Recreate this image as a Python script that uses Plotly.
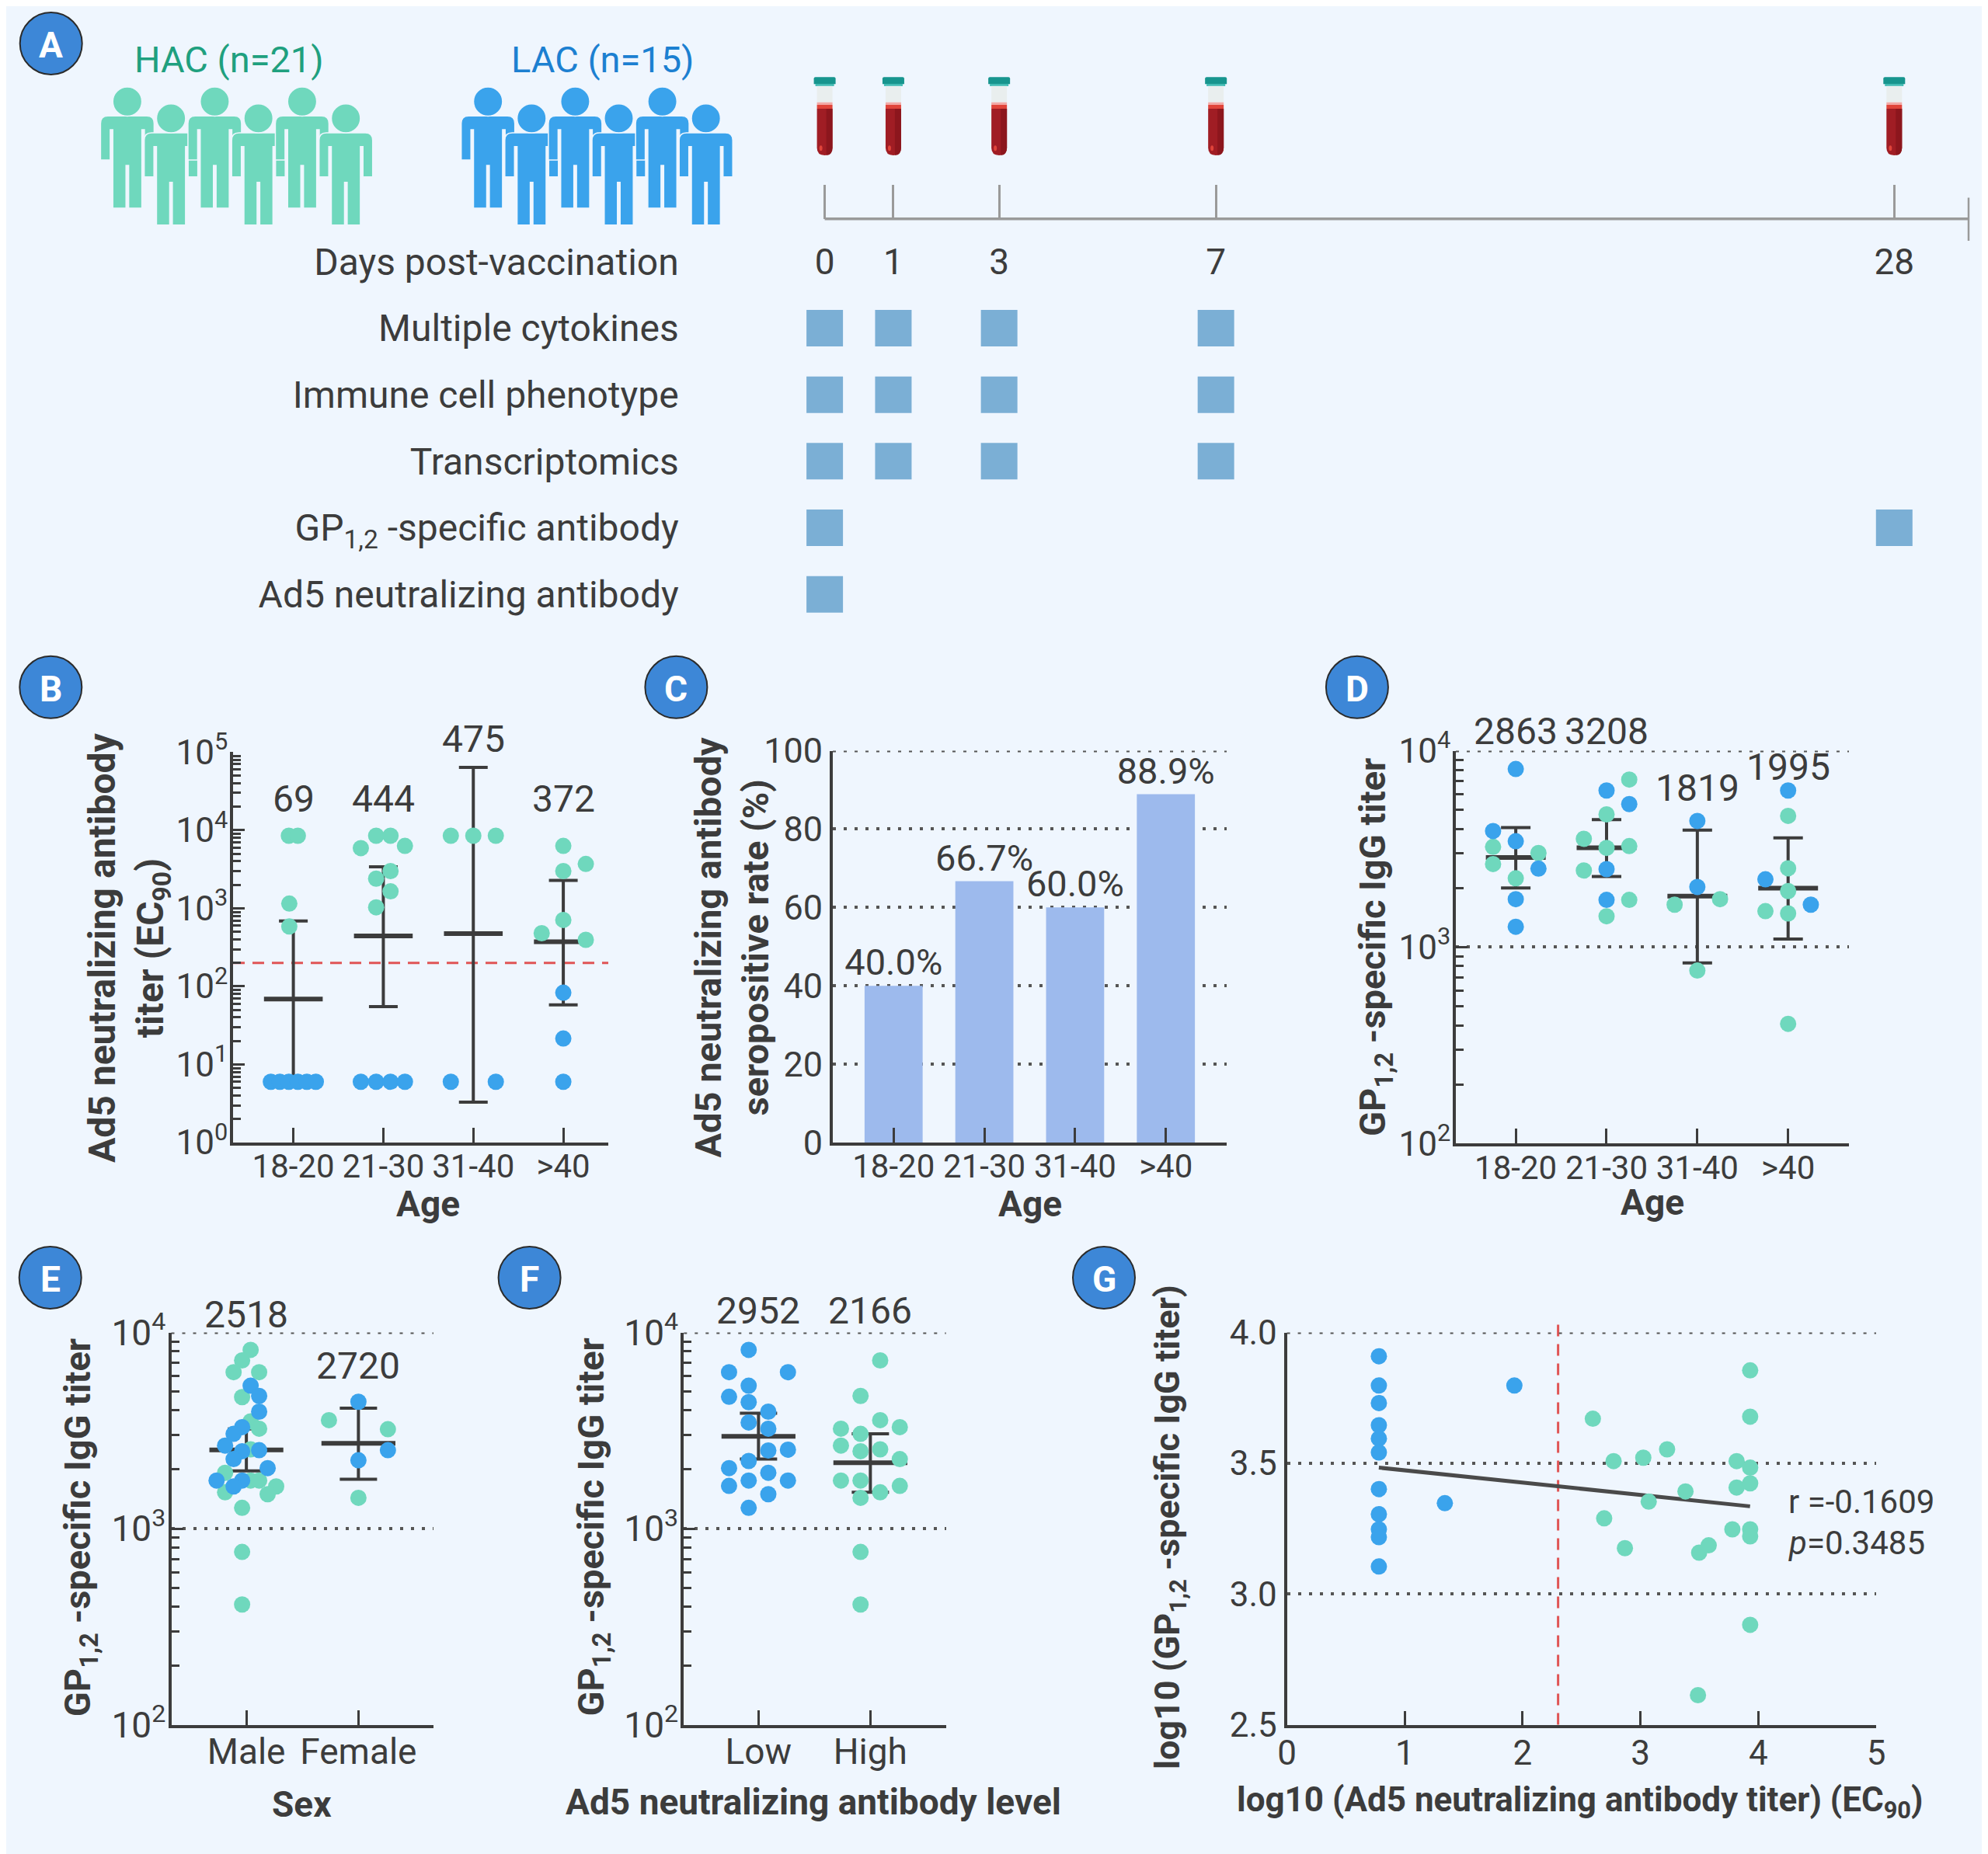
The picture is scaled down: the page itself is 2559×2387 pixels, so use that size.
import numpy as np
import plotly.graph_objects as go

W, H = 2559, 2387
OFF = 8  # page body margin in the browser
BG = "#eff6fe"
INK = "#3c3c3c"
HAC_C = "#6fd8bd"
LAC_C = "#3aa3ec"
BAR_C = "#9dbaed"
SQ_C = "#7bafd5"
RED = "#e05555"
AXGRAY = "#9a9a9a"
GRID = "#555555"

# ======================= DATA =======================
# Panel A
cohort_names = ["HAC (n=21)", "LAC (n=15)"]
days = [0, 1, 3, 7, 28]
assays = ["Multiple cytokines", "Immune cell phenotype", "Transcriptomics",
          "GP<sub>1,2</sub> -specific antibody", "Ad5 neutralizing antibody"]
assay_days = [[0, 1, 3, 7], [0, 1, 3, 7], [0, 1, 3, 7], [0, 28], [0]]

# Panel B  (Ad5 neutralizing titer by age)
age_groups = ["18-20", "21-30", "31-40", ">40"]
b_titer = [
    [8500, 8500, 1150, 585, 6, 6, 6, 6, 6, 6],
    [8500, 8500, 5900, 6300, 3000, 2400, 1650, 1030, 6, 6, 6, 6],
    [8500, 8500, 8500, 6, 6],
    [6300, 3700, 3000, 710, 480, 395, 83, 21.5, 6],
]
b_cohort = ["HHHHLLLLLL", "HHHHHHHHLLLL", "HHHLL", "HHHHHHLLL"]
b_gmt = [69, 444, 475, 372]
b_lo = [6, 55, 3.3, 58]
b_hi = [690, 3400, 64000, 2280]
seropositive_cutoff = 200

# Panel C
c_rate = [40.0, 66.7, 60.0, 88.9]

# Panel D  (GP1,2 IgG by age)
d_titer = [
    [8070, 3900, 3460, 3240, 3015, 2650, 2510, 2240, 1755, 1270],
    [7130, 6270, 5350, 4740, 3560, 3200, 3270, 2455, 2495, 1740, 1740, 1436],
    [4390, 2025, 1755, 1645, 760],
    [6270, 4660, 2520, 2215, 1930, 1645, 1525, 1485, 407],
]
d_cohort = ["LLLHHHLHLL", "HLLHHHHHLLHH", "LLHHH", "LHHLHLHHH"]
d_gmt = [2863, 3208, 1819, 1995]
d_lo = [2000, 2290, 832, 1100]
d_hi = [4060, 4460, 3940, 3600]

# Panel E  (by sex)
sex_groups = ["Male", "Female"]
e_titer = [
    [8150, 7200, 6270, 6270, 4680, 3520, 3230, 2535, 1925, 1757, 1757, 1640, 1530, 1497, 1275, 760, 410,
     5350, 4745, 3945, 3290, 3040, 2650, 2510, 2480, 2260, 2034, 1757, 1757, 1640],
    [3570, 3210, 1435, 4430, 2510, 2230],
]
e_cohort = ["H" * 17 + "L" * 13, "HHHLLL"]
e_gmt = [2518, 2720]
e_lo = [1970, 1785]
e_hi = [3220, 4110]

# Panel F  (by Ad5 neutralizing antibody level)
level_groups = ["Low", "High"]
f_titer = [
    [8150, 6270, 6270, 5350, 4700, 4410, 3945, 3475, 3230, 2500, 2525, 2210, 2034, 1925, 1757, 1650, 1757, 1497, 1275],
    [7200, 4745, 3570, 3230, 3290, 3040, 2650, 2535, 2480, 2260, 1757, 1757, 1650, 1530, 1435, 760, 410],
]
f_cohort = ["L" * 19, "H" * 17]
f_gmt = [2952, 2166]
f_lo = [2260, 1530]
f_hi = [3870, 3040]

# Panel G  (log10 Ad5 titer vs log10 GP IgG)
g_lac_x = [0.78] * 11 + [1.34, 1.93]
g_lac_y = [3.909, 3.797, 3.730, 3.645, 3.594, 3.541, 3.401, 3.305, 3.247, 3.217, 3.105, 3.347, 3.797]
g_hac_x = [2.596, 2.772, 3.024, 3.226, 3.382, 3.070, 2.692, 2.868, 3.498, 3.579, 3.488, 3.780, 3.816, 3.816,
           3.931, 3.931, 3.931, 3.931, 3.931, 3.931, 3.931]
g_hac_y = [3.670, 3.508, 3.521, 3.553, 3.392, 3.353, 3.289, 3.175, 3.158, 3.186, 2.613, 3.247, 3.508, 3.407,
           3.855, 3.678, 3.483, 3.423, 3.247, 3.220, 2.882]
g_fit_x = [0.78, 3.93]
g_fit_y = [3.483, 3.335]
g_r = -0.1609
g_p = 0.3485

# ======================= LAYOUT HELPERS (positions only) =======================
day_pos = [0, 6.0, 15.25, 34.2, 93.5]          # schematic timeline positions
b_dodge = [
    [-0.05, 0.05, -0.045, -0.045, -0.25, -0.15, -0.05, 0.05, 0.15, 0.25],
    [-0.08, 0.08, -0.25, 0.24, 0.08, -0.08, 0.08, -0.08, -0.25, -0.08, 0.08, 0.24],
    [-0.25, 0.0, 0.25, -0.25, 0.25],
    [0.0, 0.25, 0.0, 0.0, -0.24, 0.25, 0.0, 0.0, 0.0],
]
d_slot = [[0, -1, 0, -1, 1, -1, 1, 0, 0, 0],
          [1, 0, 1, 0, -1, 0, 1, -1, 0, 0, 1, 0],
          [0, 0, 1, -1, 0],
          [0, 0, 0, -1, 0, 1, -1, 0, 0]]
d_dodge = [[s * 0.25 for s in g] for g in d_slot]
e_dodge = [[s * 0.076 for s in [0.5, -0.5, -1.5, 1.5, -0.5, 0.5, 1.5, 0.5, -2.5, 0.5, 1.5, 3.5, -2.5, 2.5, -0.5, -0.5, -0.5,
                                 0.5, 1.5, 1.5, -0.5, -1.5, -2.5, 1.5, -0.5, -1.5, 2.5, -3.5, -0.5, -1.5]],
           [s * 0.263 for s in [-1, 1, 0, 0, 1, 0]]]
f_dodge = [[s * 0.0877 for s in [-1, -3, 3, -1, -3, -1, 1, -1, 1, 1, 3, -1, -3, 1, -1, -3, 3, 1, -1]],
           [s * 0.0877 for s in [1, -1, 1, -3, 3, -1, -3, 1, -1, 3, -3, -1, 3, 1, -1, -1, -1]]]
b_label_y = [4.40, 4.40, 5.165, 4.40]
d_label_y = [4.098, 4.098, 3.81, 3.918]
e_label_y = [4.09, 3.83]
f_label_y = [4.109, 4.109]


def fx(x):
    return (x - OFF) / W


def fy(y):
    return 1 - (y - OFF) / H


fig = go.Figure()
shapes = []
annotations = []


def ann(text, x, y, size=44, color=INK, angle=0, xanchor="center"):
    annotations.append(dict(text=text, x=fx(x), y=fy(y), xref="paper", yref="paper", showarrow=False,
                            textangle=angle, xanchor=xanchor, yanchor="middle",
                            font=dict(size=size, color=color)))


# ---------- Panel A ----------
sq_x, sq_y = [], []
for i, dl in enumerate(assay_days):
    for d in dl:
        sq_x.append(day_pos[days.index(d)])
        sq_y.append(i + 1)
fig.add_trace(go.Scatter(x=sq_x, y=sq_y, mode="markers", xaxis="x", yaxis="y", cliponaxis=False,
                         marker=dict(symbol="square", size=47, color=SQ_C, line=dict(width=0)),
                         hoverinfo="skip"))

# timeline line + end tick
shapes.append(dict(type="line", xref="x", yref="paper", x0=0, x1=100, y0=fy(281.8), y1=fy(281.8),
                   line=dict(color=AXGRAY, width=3.5)))
shapes.append(dict(type="line", xref="x", yref="paper", x0=100, x1=100, y0=fy(254.4), y1=fy(310),
                   line=dict(color=AXGRAY, width=2.5)))

# blood tubes at each sampling day
for xp in day_pos:
    common = dict(xref="x", yref="paper", xsizemode="pixel", ysizemode="pixel",
                  xanchor=xp, yanchor=fy(99.3), line=dict(width=0), layer="above")
    shapes += [
        dict(type="path", path="M-14,-9 L-14,-2 Q-14,0 -12,0 L12,0 Q14,0 14,-2 L14,-9 Z",
             fillcolor="#17958e", **common),
        dict(type="rect", x0=-12, x1=12, y0=-9, y1=-11.5, fillcolor="#2cb5ab", **common),
        dict(type="rect", x0=-10, x1=10, y0=-11.5, y1=-32.4, fillcolor="#e9eeee", **common),
        dict(type="rect", x0=-10, x1=10, y0=-32.4, y1=-35.7, fillcolor="#f2a9a6", **common),
        dict(type="rect", x0=-10, x1=10, y0=-35.7, y1=-40.7, fillcolor="#e0443a", **common),
        dict(type="path", path="M-10,-40.7 L10,-40.7 L10,-91 Q10,-100.7 0,-100.7 Q-10,-100.7 -10,-91 Z",
             fillcolor="#a01d24", **common),
        dict(type="path", path="M2,-40.7 L10,-40.7 L10,-91 Q10,-100.7 2,-100.5 Z",
             fillcolor="#8c161d", **common),
        dict(type="circle", x0=-7, x1=-3, y0=-88, y1=-95, fillcolor="#e0443a", **common),
    ]


def person(cx, ty, color):
    def pt(dx, dy):
        return f"{fx(cx + dx):.5f},{fy(ty + dy):.5f}"
    seq = [(34.5, 94), (22, 94), (22, 55), (18.7, 55), (18.7, 156), (1.7, 156),
           (1.7, 101), (-1.7, 101), (-1.7, 156), (-18.7, 156), (-18.7, 55), (-22, 55), (-22, 94),
           (-34.5, 94), (-34.5, 47)]
    path = "M" + pt(-25, 37.3) + " L" + pt(25, 37.3) + " Q" + pt(34.5, 37.3) + " " + pt(34.5, 47)
    for p in seq:
        path += " L" + pt(*p)
    path += " Q" + pt(-34.5, 37.3) + " " + pt(-25, 37.3) + " Z"
    return [dict(type="path", xref="paper", yref="paper", path=path, fillcolor=color,
                 line=dict(color=BG, width=1.5), layer="above"),
            dict(type="circle", xref="paper", yref="paper", x0=fx(cx - 18.7), x1=fx(cx + 18.7),
                 y0=fy(ty + 37.4), y1=fy(ty), fillcolor=color, line=dict(color=BG, width=1.5), layer="above")]


for k in range(6):
    shapes += person(163.9 + k * 56.26, 112 if k % 2 == 0 else 133.7, HAC_C)
    shapes += person(628.2 + k * 56.1, 112 if k % 2 == 0 else 133.7, LAC_C)
ann(cohort_names[0], 294.6, 76.5, size=47, color="#1fa07f")
ann(cohort_names[1], 775, 76.5, size=47, color="#1c80d1")


# ---------- dot-plot helper ----------
def dot_panel(xa, ya, titers, cohorts, dodges, gmt, lo, hi, bar_size, cap_w, dot=21):
    xs = list(range(len(gmt)))
    fig.add_trace(go.Scatter(
        x=xs, y=gmt, mode="markers", xaxis=xa, yaxis=ya, cliponaxis=False, hoverinfo="skip",
        marker=dict(symbol="line-ew", size=bar_size, color=INK, line=dict(width=6, color=INK)),
        error_y=dict(type="data", symmetric=False, array=[h - g for h, g in zip(hi, gmt)],
                     arrayminus=[g - l for g, l in zip(gmt, lo)], color=INK, thickness=4, width=cap_w)))
    for code, color in (("H", HAC_C), ("L", LAC_C)):
        X, Y = [], []
        for i, (vals, cs, ds) in enumerate(zip(titers, cohorts, dodges)):
            for v, c, d in zip(vals, cs, ds):
                if c == code:
                    X.append(i + d)
                    Y.append(v)
        fig.add_trace(go.Scatter(x=X, y=Y, mode="markers", xaxis=xa, yaxis=ya, cliponaxis=False,
                                 marker=dict(size=dot, color=color, line=dict(width=0)), hoverinfo="skip"))


dot_panel("x2", "y2", b_titer, b_cohort, b_dodge, b_gmt, b_lo, b_hi, 54, 18.5)
dot_panel("x4", "y4", d_titer, d_cohort, d_dodge, d_gmt, d_lo, d_hi, 55, 19)
dot_panel("x5", "y5", e_titer, e_cohort, e_dodge, e_gmt, e_lo, e_hi, 68, 24)
dot_panel("x6", "y6", f_titer, f_cohort, f_dodge, f_gmt, f_lo, f_hi, 68, 24)

# ---------- Panel C bars ----------
fig.add_trace(go.Bar(x=list(range(len(c_rate))), y=c_rate, xaxis="x3", yaxis="y3", width=0.64,
                     marker=dict(color=BAR_C, line=dict(width=0)), texttemplate="%{y:.1f}%",
                     textposition="outside", constraintext="none", cliponaxis=False,
                     textfont=dict(size=47, color=INK), hoverinfo="skip"))

# ---------- Panel G ----------
fig.add_trace(go.Scatter(x=g_fit_x, y=g_fit_y, mode="lines", xaxis="x7", yaxis="y7",
                         line=dict(color="#4a4a4a", width=5), hoverinfo="skip"))
fig.add_trace(go.Scatter(x=g_lac_x, y=g_lac_y, mode="markers", xaxis="x7", yaxis="y7", cliponaxis=False,
                         marker=dict(size=21, color=LAC_C), hoverinfo="skip"))
fig.add_trace(go.Scatter(x=g_hac_x, y=g_hac_y, mode="markers", xaxis="x7", yaxis="y7", cliponaxis=False,
                         marker=dict(size=21, color=HAC_C), hoverinfo="skip"))

# cutoff lines
shapes.append(dict(type="line", xref="x2 domain", yref="y2", x0=0, x1=1,
                   y0=seropositive_cutoff, y1=seropositive_cutoff,
                   line=dict(color=RED, width=3, dash="15px,10px"), layer="below"))
shapes.append(dict(type="line", xref="x7", yref="y7 domain", x0=np.log10(seropositive_cutoff),
                   x1=np.log10(seropositive_cutoff), y0=0, y1=1.02,
                   line=dict(color=RED, width=3, dash="15px,10px"), layer="below"))
# top dotted gridlines (at the very edge of the ranges)
for xr, yr, yv in (("x3 domain", "y3", 100), ("x4 domain", "y4", 1e4), ("x5 domain", "y5", 1e4),
                   ("x6 domain", "y6", 1e4), ("x7 domain", "y7", 4.0)):
    shapes.append(dict(type="line", xref=xr, yref=yr, x0=0, x1=1, y0=yv, y1=yv,
                       line=dict(color=GRID, width=4, dash="4px,10px"), layer="below"))


# ---------- axes ----------
def cat_x(domain_px, rng, labels, anchor, fs, standoff=-9):
    return dict(domain=[fx(domain_px[0]), fx(domain_px[1])], range=rng, anchor=anchor, tickmode="array",
                tickvals=list(range(len(labels))), ticktext=labels, ticks="inside", ticklen=19, tickwidth=3,
                tickcolor=INK, showline=True, linewidth=4, linecolor=INK, showgrid=False, zeroline=False,
                automargin=False, ticklabelstandoff=standoff, tickangle=0, tickfont=dict(size=fs, color=INK))


def log_y(domain_px, e0, e1, anchor, grid, fs):
    exps = list(range(e0, e1 + 1))
    return dict(domain=[fy(domain_px[1]), fy(domain_px[0])], type="log", range=[e0, e1], anchor=anchor,
                tickmode="array", tickvals=[10.0 ** e for e in exps], ticktext=[f"10<sup>{e}</sup>" for e in exps],
                ticks="inside", ticklen=15, tickwidth=3, tickcolor=INK,
                minor=dict(ticks="inside", ticklen=10, tickwidth=3, tickcolor=INK, dtick="D1", showgrid=False),
                showline=True, linewidth=4, linecolor=INK, showgrid=grid, gridcolor=GRID, gridwidth=4,
                griddash="4px,10px", zeroline=False, automargin=False, ticklabelstandoff=-6,
                tickfont=dict(size=fs, color=INK))


tl_unit = (2534 - 1061.6) / 100.0
layout = dict(
    width=W, height=H, margin=dict(l=0, r=0, t=0, b=0, autoexpand=False), paper_bgcolor=BG,
    plot_bgcolor="rgba(0,0,0,0)", showlegend=False, font=dict(family="Roboto", color=INK),
    xaxis=dict(domain=[fx(1061.6 - 4 * tl_unit), fx(1061.6 + 101 * tl_unit)], range=[-4, 101], anchor="free",
               position=fy(281.8), tickmode="array", tickvals=day_pos, ticktext=[str(d) for d in days],
               ticks="inside", ticklen=44, tickwidth=2.5, tickcolor=AXGRAY, showline=False, showgrid=False,
               zeroline=False, automargin=False, tickangle=0, tickfont=dict(size=46, color=INK),
               ticklabelstandoff=24),
    yaxis=dict(domain=[fy(808.15), fy(293.85)], range=[5.5, -0.5], anchor="free", position=fx(873.7),
               tickmode="array", tickvals=list(range(6)), ticktext=["Days post-vaccination"] + assays, ticks="",
               showline=False, showgrid=False, zeroline=False, automargin=False,
               tickfont=dict(size=48, color=INK)),
    xaxis2=cat_x((300, 783), [-0.67, 3.5], age_groups, "y2", 42),
    yaxis2=log_y((968.4, 1471), 0, 5, "x2", False, 44),
    xaxis3=cat_x((1072, 1579), [-0.67, 3.67], age_groups, "y3", 42),
    yaxis3=dict(domain=[fy(1471), fy(966.5)], range=[0, 100], anchor="x3", tickmode="array",
                tickvals=[0, 20, 40, 60, 80, 100], ticks="", showline=True, linewidth=4, linecolor=INK,
                showgrid=True, gridcolor=GRID, gridwidth=4, griddash="4px,10px", zeroline=False,
                automargin=False, tickfont=dict(size=45, color=INK)),
    xaxis4=cat_x((1874, 2380), [-0.66, 3.67], age_groups, "y4", 42),
    yaxis4=log_y((966.5, 1472.4), 2, 4, "x4", True, 44),
    xaxis5=cat_x((220.5, 558), [-0.67, 1.67], sex_groups, "y5", 46),
    yaxis5=log_y((1715.5, 2220.5), 2, 4, "x5", True, 46),
    xaxis6=cat_x((880.3, 1217.7), [-0.667, 1.676], level_groups, "y6", 46),
    yaxis6=log_y((1715.5, 2220.5), 2, 4, "x6", True, 46),
    xaxis7=dict(domain=[fx(1656.6), fx(2415)], range=[0, 5], anchor="y7", tickmode="linear", tick0=0, dtick=1,
                ticks="inside", ticklen=18, tickwidth=3, tickcolor=INK, showline=True, linewidth=4, linecolor=INK,
                showgrid=False, zeroline=False, automargin=False, ticklabelstandoff=-5, tickangle=0,
                tickfont=dict(size=44, color=INK)),
    yaxis7=dict(domain=[fy(2220.5), fy(1715.5)], range=[2.5, 4.0], anchor="x7", tickmode="linear",
                tick0=2.5, dtick=0.5, tickformat=".1f", ticks="", showline=True, linewidth=4, linecolor=INK,
                showgrid=True, gridcolor=GRID, gridwidth=4, griddash="4px,10px", zeroline=False,
                automargin=False, tickfont=dict(size=44, color=INK)),
)


# value labels (y given as position inside the log axis span)
def value_labels(xa, ya, vals, ylog, e0, e1, size=48):
    for i, (v, yl) in enumerate(zip(vals, ylog)):
        annotations.append(dict(text=str(v), x=i, y=(yl - e0) / (e1 - e0), xref=xa, yref=ya + " domain",
                                showarrow=False, xanchor="center", yanchor="middle",
                                font=dict(size=size, color=INK)))


value_labels("x2", "y2", b_gmt, b_label_y, 0, 5)
value_labels("x4", "y4", d_gmt, d_label_y, 2, 4)
value_labels("x5", "y5", e_gmt, e_label_y, 2, 4)
value_labels("x6", "y6", f_gmt, f_label_y, 2, 4)

# stats G
ann(f"r ={g_r:.4f}", 2300, 1933.8, size=42, xanchor="left")
ann(f"<i>p</i>={g_p:.4f}", 2300, 1986.5, size=42, xanchor="left")

# axis titles
ann("<b>Ad5 neutralizing antibody<br>titer (EC<sub>90</sub>)</b>", 165, 1220, size=48, angle=-90)
ann("<b>Age</b>", 551, 1550, size=46)
ann("<b>Ad5 neutralizing antibody<br>seropositive rate (%)</b>", 941.5, 1220, size=47, angle=-90)
ann("<b>Age</b>", 1325.5, 1550, size=46)
ann("<b>GP<sub>1,2</sub> -specific IgG titer</b>", 1770, 1220, size=47, angle=-90)
ann("<b>Age</b>", 2127, 1548, size=46)
ann("<b>GP<sub>1,2</sub> -specific IgG titer</b>", 102.7, 1966.5, size=47, angle=-90)
ann("<b>Sex</b>", 388, 2323, size=46)
ann("<b>GP<sub>1,2</sub> -specific IgG titer</b>", 763, 1966.5, size=47, angle=-90)
ann("<b>Ad5 neutralizing antibody level</b>", 1046.6, 2320.4, size=46)
ann("<b>log10 (GP<sub>1,2</sub> -specific IgG titer)</b>", 1505, 1966, size=45, angle=-90)
ann("<b>log10 (Ad5 neutralizing antibody titer) (EC<sub>90</sub>)</b>", 2033, 2320, size=44)

# panel badges
for letter, (cx, cy) in zip("ABCDEFG", [(65.7, 56), (65.3, 884.8), (870.4, 884.8), (1746.9, 884.8),
                                        (64.7, 1645), (681.6, 1645), (1421, 1645)]):
    shapes.append(dict(type="circle", xref="paper", yref="paper", x0=fx(cx - 40), x1=fx(cx + 40),
                       y0=fy(cy + 40), y1=fy(cy - 40), fillcolor="#3d87d7", line=dict(color="#2b2b2b", width=2)))
    ann(f"<b>{letter}</b>", cx, cy + 2, size=46, color="white")

layout["shapes"] = shapes
layout["annotations"] = annotations
fig.update_layout(**layout)
fig.write_html("out.html")
